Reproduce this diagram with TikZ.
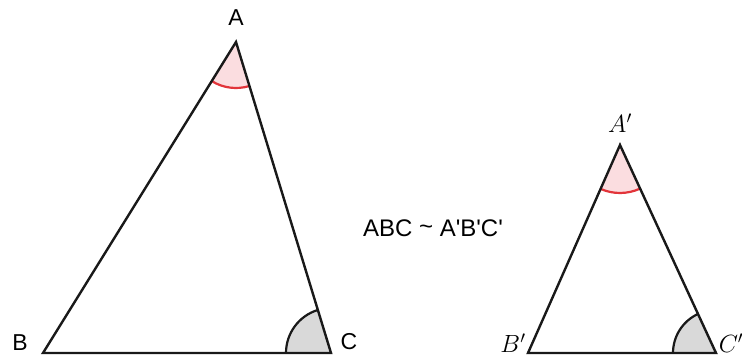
\documentclass[tikz,border=0pt]{standalone}
\usepackage{fontspec}
\setmainfont{Liberation Sans}[Ligatures=TeXOff]
\usetikzlibrary{angles}
\definecolor{pinkfill}{HTML}{FBDDE0}
\definecolor{redarc}{HTML}{E2343A}
\definecolor{grayfill}{HTML}{D9D9D9}
\begin{document}
\begin{tikzpicture}[x=1pt,y=1pt,
  side/.style={line width=2.4pt,draw=black!90},
  lbl/.style={font=\fontsize{23}{23}\selectfont,inner sep=0pt},
  mlbl/.style={font=\fontsize{24}{24}\selectfont,inner sep=0pt}]
\useasboundingbox[fill=white] (0,0) rectangle (742,356);
% big triangle
\coordinate (A) at (236,314);
\coordinate (B) at (43,3);
\coordinate (C) at (331,3);
% small triangle
\coordinate (A2) at (620,211);
\coordinate (B2) at (528,3);
\coordinate (C2) at (716,3);
% angles
\pic[fill=pinkfill,draw=redarc,line width=2.2pt,angle radius=46pt] {angle=B--A--C};
\pic[fill=grayfill,draw=black!90,line width=2.2pt,angle radius=45pt] {angle=A--C--B};
\pic[fill=pinkfill,draw=redarc,line width=2.2pt,angle radius=48pt] {angle=B2--A2--C2};
\pic[fill=grayfill,draw=black!90,line width=2.2pt,angle radius=43pt] {angle=A2--C2--B2};
\draw[side,line join=miter] (A) -- (B) -- (C) -- cycle;
\draw[side,line join=miter] (A2) -- (B2) -- (C2) -- cycle;
% labels
\node[lbl] (la) at (236,338) {A};
\node[lbl] (lb) at (20,13) {B};
\node[lbl] (lc) at (349,14) {C};
\node[mlbl] (la2) at (620,233) {\fontspec{Latin Modern Roman}$A^{\prime}$};
\node[mlbl] (lb2) at (513,13) {\fontspec{Latin Modern Roman}$B^{\prime}$};
\node[mlbl] (lc2) at (731,13) {\fontspec{Latin Modern Roman}$C^{\prime}$};
\node[font=\fontsize{24}{24}\selectfont,inner sep=0pt] (sim) at (433,128) {ABC \raisebox{2pt}{\char`~} A'B'C'};
\end{tikzpicture}
\end{document}
